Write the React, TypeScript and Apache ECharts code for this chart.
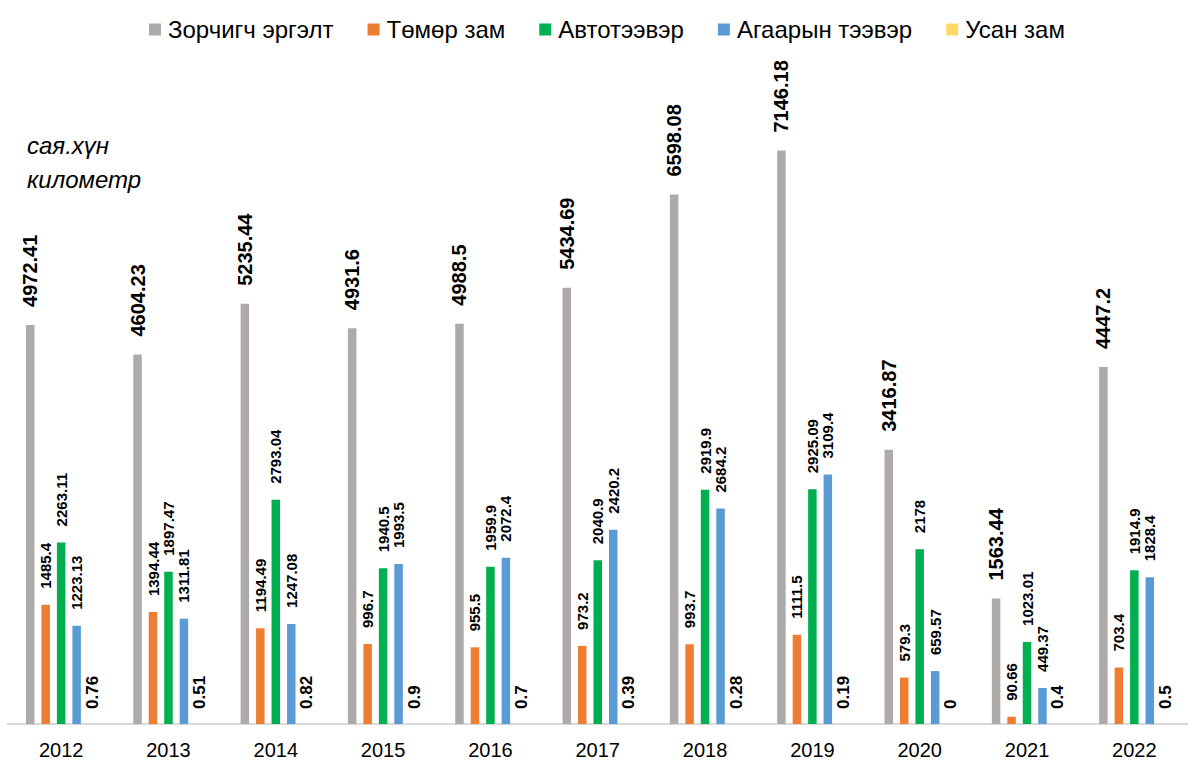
import React, { useEffect, useRef } from "react";
import * as echarts from "echarts";

const years = ["2012", "2013", "2014", "2015", "2016", "2017", "2018", "2019", "2020", "2021", "2022"];
const seriesNames = ["Зорчигч эргэлт", "Төмөр зам", "Автотээвэр", "Агаарын тээвэр", "Усан зам"];
const passengerTurnover = [4972.41, 4604.23, 5235.44, 4931.6, 4988.5, 5434.69, 6598.08, 7146.18, 3416.87, 1563.44, 4447.2];
const railway = [1485.4, 1394.44, 1194.49, 996.7, 955.5, 973.2, 993.7, 1111.5, 579.3, 90.66, 703.4];
const road = [2263.11, 1897.47, 2793.04, 1940.5, 1959.9, 2040.9, 2919.9, 2925.09, 2178, 1023.01, 1914.9];
const air = [1223.13, 1311.81, 1247.08, 1993.5, 2072.4, 2420.2, 2684.2, 3109.4, 659.57, 449.37, 1828.4];
const water = [0.76, 0.51, 0.82, 0.9, 0.7, 0.39, 0.28, 0.19, 0, 0.4, 0.5];
const colors = ["#AEAAAA", "#ED7D31", "#00B050", "#5B9BD5", "#FFD966"];

const FONT = "Liberation Sans, Arial, sans-serif";
const labelSizes = [20, 15, 15, 15, 17];
const labelDistances = [18, 16, 16, 16, 15];

export default function App() {
  const ref = useRef<HTMLDivElement>(null);
  useEffect(() => {
    if (!ref.current) return;
    const chart = echarts.init(ref.current, null, { renderer: "svg" });
    const data = [passengerTurnover, railway, road, air, water];
    const series = data.map((d, i) => ({
      name: seriesNames[i],
      type: "bar",
      data: d,
      barWidth: 8.5,
      barGap: "82%",
      itemStyle: { color: colors[i] },
      label: {
        show: true,
        position: "top",
        rotate: 90,
        align: "left",
        verticalAlign: "middle",
        distance: labelDistances[i],
        fontFamily: FONT,
        fontWeight: "bold",
        fontSize: labelSizes[i],
        color: "#000",
      },
    }));
    chart.setOption({
      animation: false,
      textStyle: { fontFamily: FONT },
      legend: {
        top: 12.5,
        left: 144,
        itemWidth: 12,
        itemHeight: 12,
        itemGap: 34,
        icon: "rect",
        textStyle: { fontSize: 24, color: "#000", fontFamily: FONT, padding: [0, 0, 0, 2] },
        data: seriesNames,
      },
      grid: { left: 7.5, width: 1188, top: 82, bottom: 36, containLabel: false },
      xAxis: {
        type: "category",
        data: years,
        axisLine: { show: true, lineStyle: { color: "#D9D9D9", width: 2 } },
        axisTick: { show: false },
        axisLabel: { fontSize: 20, color: "#000", margin: 16, fontFamily: FONT },
      },
      yAxis: {
        type: "value",
        min: 0,
        max: 8000,
        show: false,
        splitLine: { show: false },
      },
      graphic: [
        {
          type: "text",
          x: 27,
          y: 145.5,
          style: { text: "сая.хүн", font: `italic 24px ${FONT}`, fill: "#000", verticalAlign: "middle" },
        },
        {
          type: "text",
          x: 27,
          y: 179.5,
          style: { text: "километр", font: `italic 24px ${FONT}`, fill: "#000", verticalAlign: "middle" },
        },
      ],
      series,
    });
    return () => chart.dispose();
  }, []);
  return <div ref={ref} style={{ width: 1188, height: 760, position: "absolute", left: 0, top: 0 }} />;
}
